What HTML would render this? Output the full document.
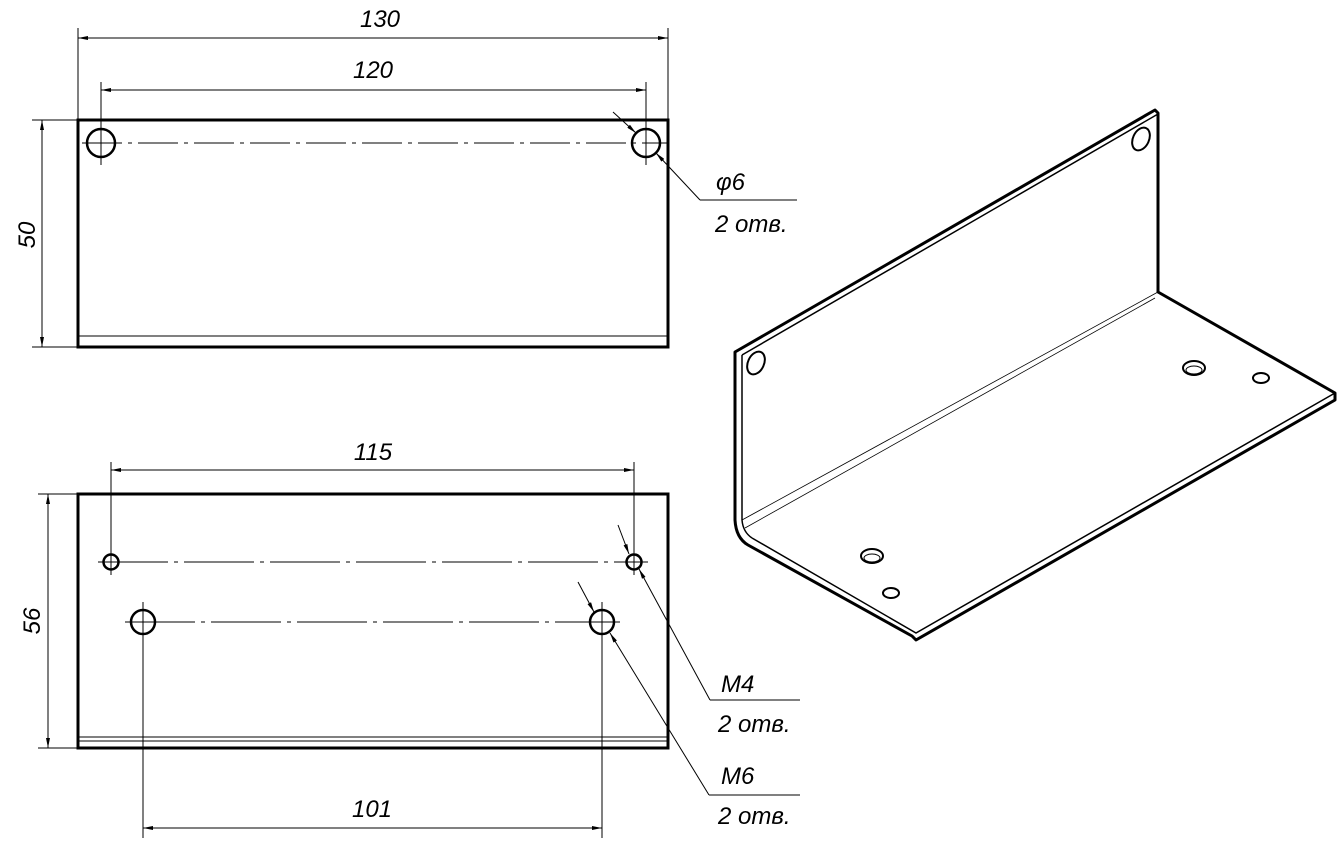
<!DOCTYPE html>
<html><head><meta charset="utf-8"><style>html,body{margin:0;padding:0;background:#fff}svg{display:block}</style></head>
<body>
<svg width="1339" height="851" viewBox="0 0 1339 851" xmlns="http://www.w3.org/2000/svg" font-family="Liberation Sans, DejaVu Sans, sans-serif" font-style="italic">
<defs>
<marker id="a" viewBox="0 0 10 4" refX="10" refY="2" markerWidth="16" markerHeight="4" markerUnits="userSpaceOnUse" orient="auto-start-reverse"><path d="M0,0 L10,2 L0,4 Z" fill="#000"/></marker>
</defs>
<g stroke="#000" fill="none">
<!-- TOP VIEW -->
<rect x="78" y="120" width="590" height="227" stroke-width="3"/>
<line x1="78" y1="336" x2="668" y2="336" stroke-width="1"/>
<circle cx="101" cy="143" r="14" stroke-width="2.5"/>
<circle cx="646" cy="143" r="14" stroke-width="2.5"/>
<line x1="82" y1="143" x2="668" y2="143" stroke-width="1" stroke-dasharray="40,6,4,6"/>
<line x1="101" y1="82" x2="101" y2="165" stroke-width="1"/>
<line x1="646" y1="82" x2="646" y2="165" stroke-width="1"/>
<line x1="78" y1="28" x2="78" y2="120" stroke-width="1"/>
<line x1="668" y1="28" x2="668" y2="120" stroke-width="1"/>
<line x1="78" y1="38" x2="668" y2="38" stroke-width="1" marker-start="url(#a)" marker-end="url(#a)"/>
<line x1="101" y1="90" x2="646" y2="90" stroke-width="1" marker-start="url(#a)" marker-end="url(#a)"/>
<line x1="32" y1="120" x2="78" y2="120" stroke-width="1"/>
<line x1="32" y1="347" x2="78" y2="347" stroke-width="1"/>
<line x1="42" y1="120" x2="42" y2="347" stroke-width="1" marker-start="url(#a)" marker-end="url(#a)"/>
<line x1="613" y1="112" x2="636" y2="133" stroke-width="1" marker-end="url(#a)"/>
<line x1="656" y1="153" x2="700" y2="200" stroke-width="1" marker-start="url(#a)"/>
<line x1="700" y1="200" x2="797" y2="200" stroke-width="1"/>
<!-- BOTTOM VIEW -->
<rect x="78" y="494" width="590" height="254" stroke-width="3"/>
<line x1="78" y1="737" x2="668" y2="737" stroke-width="1"/>
<line x1="78" y1="741" x2="668" y2="741" stroke-width="1"/>
<circle cx="111" cy="562" r="7.5" stroke-width="2.5"/>
<circle cx="634" cy="562" r="7.5" stroke-width="2.5"/>
<circle cx="143" cy="622" r="12" stroke-width="2.5"/>
<circle cx="602" cy="622" r="12" stroke-width="2.5"/>
<line x1="98" y1="562" x2="648" y2="562" stroke-width="1" stroke-dasharray="70,6,4,6"/>
<line x1="125" y1="622" x2="620" y2="622" stroke-width="1" stroke-dasharray="70,6,4,6"/>
<line x1="111" y1="462" x2="111" y2="575" stroke-width="1"/>
<line x1="634" y1="462" x2="634" y2="575" stroke-width="1"/>
<line x1="111" y1="470" x2="634" y2="470" stroke-width="1" marker-start="url(#a)" marker-end="url(#a)"/>
<line x1="143" y1="602" x2="143" y2="838" stroke-width="1"/>
<line x1="602" y1="602" x2="602" y2="838" stroke-width="1"/>
<line x1="143" y1="828" x2="602" y2="828" stroke-width="1" marker-start="url(#a)" marker-end="url(#a)"/>
<line x1="38" y1="494" x2="78" y2="494" stroke-width="1"/>
<line x1="38" y1="748" x2="78" y2="748" stroke-width="1"/>
<line x1="48" y1="494" x2="48" y2="748" stroke-width="1" marker-start="url(#a)" marker-end="url(#a)"/>
<line x1="618" y1="525" x2="629" y2="554" stroke-width="1" marker-end="url(#a)"/>
<line x1="639" y1="569" x2="710" y2="700" stroke-width="1" marker-start="url(#a)"/>
<line x1="710" y1="700" x2="800" y2="700" stroke-width="1"/>
<line x1="578" y1="582" x2="594" y2="612" stroke-width="1" marker-end="url(#a)"/>
<line x1="610" y1="633" x2="709" y2="795" stroke-width="1" marker-start="url(#a)"/>
<line x1="709" y1="795" x2="800" y2="795" stroke-width="1"/>
<!-- ISO -->
<path d="M735,352 L1155,110 L1158,113 L1158,292 L1335,393 L1335,400 L916,640 L912,636 L748,545 Q736,538 735,520 Z" stroke-width="3" stroke-linejoin="round"/>
<path d="M742,355 L1158,114" stroke-width="1.5"/>
<path d="M742,355 L742,520 Q743,532 752,538" stroke-width="1.5"/>
<path d="M752,538 L916,633 L1335,393" stroke-width="1.5"/>
<path d="M742,520 L1158,292" stroke-width="0.8"/>
<path d="M745,528 L1155,298" stroke-width="0.8"/>
<ellipse cx="1141" cy="139" rx="8" ry="12" transform="rotate(25 1141 139)" stroke-width="2"/>
<ellipse cx="756" cy="363" rx="8" ry="12" transform="rotate(25 756 363)" stroke-width="2"/>
<ellipse cx="1194" cy="368" rx="11" ry="7" stroke-width="2"/>
<ellipse cx="1194" cy="370" rx="8" ry="4" stroke-width="1"/>
<ellipse cx="1261" cy="378" rx="8" ry="5" stroke-width="2"/>
<ellipse cx="872" cy="556" rx="11" ry="7" stroke-width="2"/>
<ellipse cx="872" cy="558" rx="8" ry="4" stroke-width="1"/>
<ellipse cx="891" cy="593" rx="8" ry="5" stroke-width="2"/>
</g>
<g fill="#000" font-size="24">
<text x="380" y="27" text-anchor="middle">130</text>
<text x="373" y="78" text-anchor="middle">120</text>
<text x="373" y="460" text-anchor="middle">115</text>
<text x="372" y="817" text-anchor="middle">101</text>
<text transform="translate(35,235) rotate(-90)" text-anchor="middle">50</text>
<text transform="translate(40,621) rotate(-90)" text-anchor="middle">56</text>
<text x="716" y="190">φ6</text>
<text x="715" y="232">2 отв.</text>
<text x="721" y="692">M4</text>
<text x="718" y="732">2 отв.</text>
<text x="721" y="784">M6</text>
<text x="718" y="824">2 отв.</text>
</g>
</svg>
</body></html>
